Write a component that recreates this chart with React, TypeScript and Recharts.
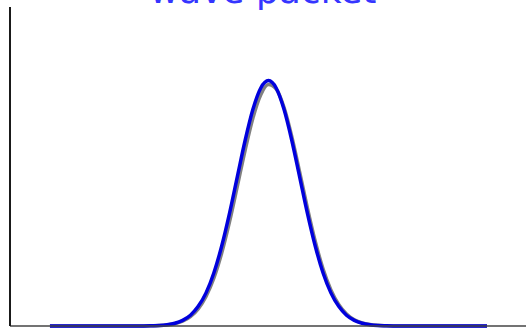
import React from 'react';
import {Line, LineChart, XAxis, YAxis} from 'recharts';

// sample positions (units of sigma)
const xs = [-7, -6, -5, -4.5, -4, -3.75, -3.5, -3.25, -3, -2.75, -2.5, -2.25, -2, -1.75, -1.5, -1.25, -1, -0.75, -0.5, -0.25,
    0, 0.25, 0.5, 0.75, 1, 1.25, 1.5, 1.75, 2, 2.25, 2.5, 2.75, 3, 3.25, 3.5, 3.75, 4, 4.5, 5, 6, 7];

// packet envelope (blue)
const envelope = [0, 0, 0, 0, 0.0003, 0.001, 0.002, 0.005, 0.011, 0.023, 0.044, 0.08, 0.135, 0.216, 0.325, 0.458, 0.607, 0.755, 0.882, 0.969,
    1, 0.969, 0.882, 0.755, 0.607, 0.458, 0.325, 0.216, 0.135, 0.08, 0.044, 0.023, 0.011, 0.005, 0.002, 0.001, 0.0003, 0, 0, 0, 0];

// probability density underneath (grey)
const density = [0, 0, 0, 0, 0.0003, 0.0007, 0.0018, 0.0043, 0.0094, 0.0195, 0.0381, 0.0699, 0.1205, 0.1949, 0.2964, 0.4231, 0.5678, 0.7152, 0.8468, 0.9417,
    0.9838, 0.9655, 0.8903, 0.771, 0.6275, 0.4795, 0.3443, 0.2322, 0.1472, 0.0876, 0.049, 0.0257, 0.0127, 0.006, 0.0026, 0.0011, 0.0004, 0, 0, 0, 0];

const data = xs.map((x, i) => ({x, envelope: envelope[i], density: density[i]}));

export default function App() {
    return (
        <div style={{position: 'absolute', left: 0, top: 0, width: 526, height: 328}}>
            <LineChart width={526} height={328} data={data}
                       margin={{top: 7, right: 0, bottom: 1, left: 9}}>
                <XAxis dataKey="x" type="number" domain={[-8.28, 8.25]} height={1}
                       stroke="#444" tick={false} tickLine={false} axisLine={{strokeWidth: 1.5}}/>
                <YAxis domain={[0, 1.3]} width={1} stroke="#1a1a1a" tick={false} tickLine={false}
                       axisLine={{strokeWidth: 2}}/>
                <Line dataKey="density" type="monotone" stroke="#808080" strokeWidth={3.5}
                      dot={false} activeDot={false} isAnimationActive={false}/>
                <Line dataKey="envelope" type="monotone" stroke="#0000dd" strokeWidth={3.5}
                      dot={false} activeDot={false} isAnimationActive={false}/>
            </LineChart>
            <svg width={526} height={328} style={{position: 'absolute', left: 0, top: 0, pointerEvents: 'none'}}>
                <text x={263} y={3} textAnchor="middle" fill="#3535ff"
                      fontFamily="DejaVu Sans" fontSize={36}>wave packet</text>
            </svg>
        </div>
    );
}
